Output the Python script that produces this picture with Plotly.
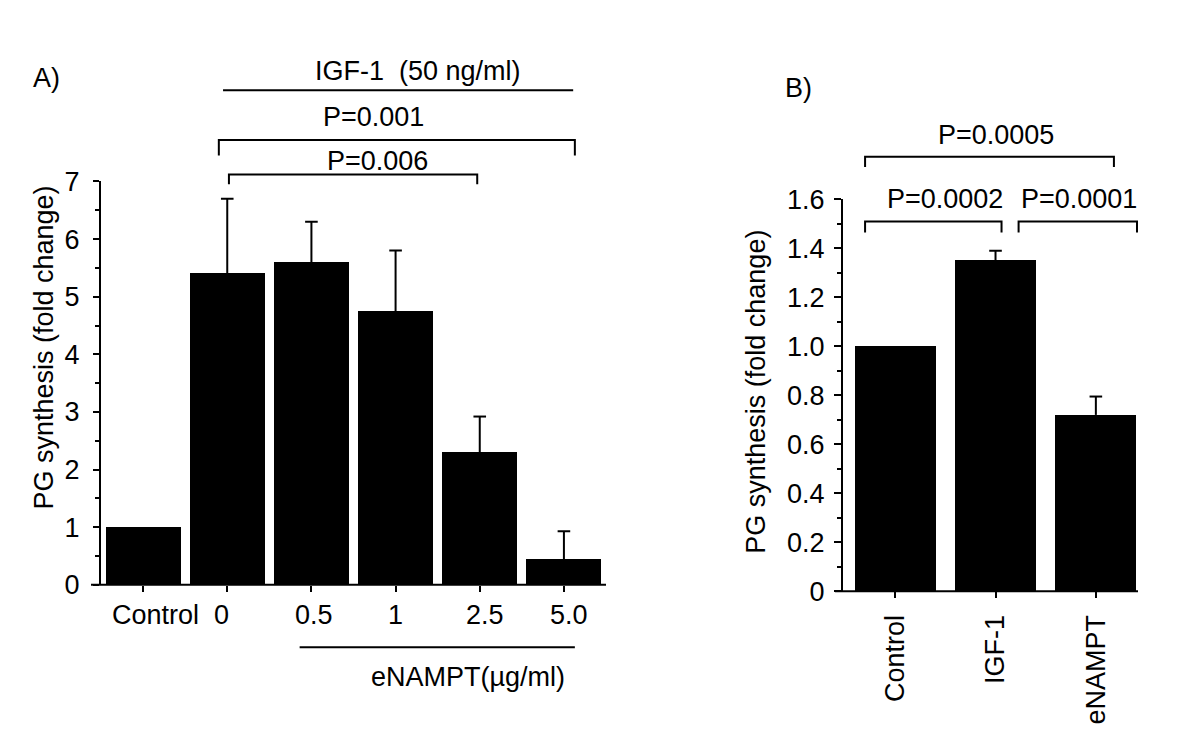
import plotly.graph_objects as go

# ---------------- data ----------------
cats_a = ["Control", "0", "0.5", "1", "2.5", "5.0"]
vals_a = [1.0, 5.4, 5.6, 4.75, 2.3, 0.44]
err_a = [None, 1.3, 0.7, 1.05, 0.62, 0.49]

cats_b = ["Control", "IGF-1", "eNAMPT"]
vals_b = [1.0, 1.35, 0.72]
err_b = [None, 0.04, 0.075]

yticks_a = [0, 1, 2, 3, 4, 5, 6, 7]
yticks_b = [0, 0.2, 0.4, 0.6, 0.8, 1.0, 1.2, 1.4, 1.6]
yticktext_b = ["0", "0.2", "0.4", "0.6", "0.8", "1.0", "1.2", "1.4", "1.6"]

ytitle = "PG synthesis (fold change)"

# ---------------- layout helpers ----------------
W, H = 1200, 756
FONT = "Liberation Sans, Arial, sans-serif"
FS = 27
BLACK = "#000000"


def px(x):
    return x / W


def py(y):
    return 1 - y / H


XR_A = [-0.5, 5.5]
YR_A = [0, 7]
XR_B = [-0.52, 2.42]
YR_B = [0, 1.6]


def dx(i, r):
    return (i - r[0]) / (r[1] - r[0])


def dy(v, r):
    return (v - r[0]) / (r[1] - r[0])


def upper_errors(cats, vals, errs, xa, ya):
    """Upper-only error bars: a stem line plus a horizontal cap marker."""
    sx, sy, cx, cy = [], [], [], []
    for c, v, e in zip(cats, vals, errs):
        if e is None:
            continue
        sx += [c, c, None]
        sy += [v, v + e, None]
        cx.append(c)
        cy.append(v + e)
    stem = go.Scatter(x=sx, y=sy, mode="lines",
                      line=dict(color=BLACK, width=2),
                      xaxis=xa, yaxis=ya, showlegend=False, hoverinfo="skip")
    cap = go.Scatter(x=cx, y=cy, mode="markers",
                     marker=dict(symbol="line-ew", size=9,
                                 line=dict(color=BLACK, width=2)),
                     xaxis=xa, yaxis=ya, showlegend=False, hoverinfo="skip")
    return [stem, cap]


fig = go.Figure()

fig.add_trace(go.Bar(
    x=cats_a, y=vals_a, width=0.89,
    marker=dict(color=BLACK, line=dict(width=0)),
    xaxis="x", yaxis="y", showlegend=False, hoverinfo="skip"))
for t in upper_errors(cats_a, vals_a, err_a, "x", "y"):
    fig.add_trace(t)

fig.add_trace(go.Bar(
    x=cats_b, y=vals_b, width=0.81,
    marker=dict(color=BLACK, line=dict(width=0)),
    xaxis="x2", yaxis="y2", showlegend=False, hoverinfo="skip"))
for t in upper_errors(cats_b, vals_b, err_b, "x2", "y2"):
    fig.add_trace(t)

axfont = dict(family=FONT, size=FS, color=BLACK)

fig.update_layout(
    width=W, height=H, autosize=False,
    margin=dict(l=0, r=0, t=0, b=0),
    paper_bgcolor="white", plot_bgcolor="white",
    font=dict(family=FONT, size=FS, color=BLACK),
    bargap=0,
    xaxis=dict(domain=[px(93), px(598)], range=XR_A, type="category",
               categoryorder="array", categoryarray=cats_a,
               anchor="y", showline=False, showgrid=False, zeroline=False,
               ticks="outside", ticklen=6, tickwidth=2, tickcolor=BLACK,
               showticklabels=False),
    yaxis=dict(domain=[py(585), py(165)], range=YR_A, anchor="x",
               showline=True, linewidth=2, linecolor=BLACK,
               showgrid=False, zeroline=False,
               tickvals=yticks_a, ticks="outside", ticklen=6, tickwidth=2,
               tickcolor=BLACK, tickfont=axfont, ticklabelstandoff=8,
               minor=dict(dtick=0.5, tick0=0, ticks="outside", ticklen=4,
                          tickwidth=2, tickcolor=BLACK)),
    xaxis2=dict(domain=[px(835), px(1130)], range=XR_B, type="category",
                categoryorder="array", categoryarray=cats_b,
                anchor="y2", showline=False, showgrid=False, zeroline=False,
                ticks="outside", ticklen=6, tickwidth=2, tickcolor=BLACK,
                tickangle=-90, tickfont=axfont, ticklabelstandoff=6),
    yaxis2=dict(domain=[py(591.7), py(183.7)], range=YR_B, anchor="x2",
                showline=True, linewidth=2, linecolor=BLACK,
                showgrid=False, zeroline=False,
                tickvals=yticks_b, ticktext=yticktext_b,
                ticks="outside", ticklen=7, tickwidth=2, tickcolor=BLACK,
                tickfont=axfont, ticklabelstandoff=4,
                minor=dict(dtick=0.1, tick0=0, ticks="outside", ticklen=4,
                           tickwidth=2, tickcolor=BLACK)),
)

shapes = []
ann = []

# x-axis lines (extend slightly left of the y axis)
shapes.append(dict(type="line", xref="x domain", yref="y domain",
                   x0=-10 / 505, x1=1, y0=0, y1=0,
                   line=dict(color=BLACK, width=2)))
shapes.append(dict(type="line", xref="x2 domain", yref="y2 domain",
                   x0=-8 / 295, x1=1, y0=0, y1=0,
                   line=dict(color=BLACK, width=2)))

# panel A category labels (as text under the ticks)
label_shift_a = [12, -6, 3, 0, 5, 5]
for i, (c, s) in enumerate(zip(cats_a, label_shift_a)):
    ann.append(dict(text=c, xref="x", yref="paper", x=i, y=py(616),
                    xshift=s, yanchor="middle", xanchor="center",
                    showarrow=False, font=axfont))


def bracket(xa, xb, ybar, yleg, xref, yref, width=2):
    shapes.append(dict(type="path", xref=xref, yref=yref,
                       path=f"M {xa} {yleg} L {xa} {ybar} L {xb} {ybar} L {xb} {yleg}",
                       line=dict(color=BLACK, width=width)))


# Panel A annotations
bracket(dx(0.9, XR_A), dx(5.13, XR_A), dy(7.72, YR_A), dy(7.45, YR_A),
        "x domain", "y domain")
bracket(dx(1.02, XR_A), dx(3.97, XR_A), dy(7.12, YR_A), dy(6.95, YR_A),
        "x domain", "y domain")
ann.append(dict(text="P=0.001", xref="x domain", yref="y domain",
                x=dx(2.74, XR_A), y=dy(8.12, YR_A), showarrow=False,
                xanchor="center", yanchor="middle", font=axfont))
ann.append(dict(text="P=0.006", xref="x domain", yref="y domain",
                x=dx(2.78, XR_A), y=dy(7.36, YR_A), showarrow=False,
                xanchor="center", yanchor="middle", font=axfont))

# IGF-1 line and label
shapes.append(dict(type="line", xref="x domain", yref="paper",
                   x0=dx(0.95, XR_A), x1=dx(5.11, XR_A), y0=py(70), y1=py(70),
                   line=dict(color=BLACK, width=2)))
ann.append(dict(text="IGF-1  (50 ng/ml)", xref="x domain", yref="paper",
                x=dx(3.27, XR_A), y=py(50), showarrow=False,
                xanchor="center", yanchor="middle", font=axfont))

# eNAMPT line and label
shapes.append(dict(type="line", xref="x domain", yref="paper",
                   x0=dx(1.86, XR_A), x1=dx(5.13, XR_A), y0=py(650), y1=py(650),
                   line=dict(color=BLACK, width=2)))
ann.append(dict(text="eNAMPT(\u00b5g/ml)", xref="x domain", yref="paper",
                x=dx(3.86, XR_A), y=py(681), showarrow=False,
                xanchor="center", yanchor="middle", font=axfont))

# Panel B brackets
bracket(dx(-0.30, XR_B), dx(2.18, XR_B), dy(1.774, YR_B), dy(1.732, YR_B),
        "x2 domain", "y2 domain")
bracket(dx(-0.30, XR_B), dx(1.06, XR_B), dy(1.51, YR_B), dy(1.465, YR_B),
        "x2 domain", "y2 domain")
bracket(dx(1.23, XR_B), dx(2.41, XR_B), dy(1.51, YR_B), dy(1.465, YR_B),
        "x2 domain", "y2 domain")
ann.append(dict(text="P=0.0005", xref="x2 domain", yref="y2 domain",
                x=dx(1.0, XR_B), y=dy(1.863, YR_B), showarrow=False,
                xanchor="center", yanchor="middle", font=axfont))
ann.append(dict(text="P=0.0002", xref="x2 domain", yref="y2 domain",
                x=dx(0.50, XR_B), y=dy(1.60, YR_B), showarrow=False,
                xanchor="center", yanchor="middle", font=axfont))
ann.append(dict(text="P=0.0001", xref="x2 domain", yref="y2 domain",
                x=dx(1.83, XR_B), y=dy(1.60, YR_B), showarrow=False,
                xanchor="center", yanchor="middle", font=axfont))

# Panel letters
ann.append(dict(text="A)", xref="paper", yref="paper", x=px(38), y=py(57),
                showarrow=False, xanchor="center", yanchor="middle", font=axfont))
ann.append(dict(text="B)", xref="paper", yref="paper", x=px(790), y=py(68),
                showarrow=False, xanchor="center", yanchor="middle", font=axfont))

# y-axis titles
ann.append(dict(text=ytitle, xref="paper", yref="paper", x=px(36), y=py(338),
                textangle=-90, showarrow=False, xanchor="center",
                yanchor="middle", font=dict(family=FONT, size=27, color=BLACK)))
ann.append(dict(text=ytitle, xref="paper", yref="paper", x=px(748), y=py(384),
                textangle=-90, showarrow=False, xanchor="center",
                yanchor="middle", font=dict(family=FONT, size=27, color=BLACK)))

fig.update_layout(shapes=shapes, annotations=ann)

fig.write_html("out.html")
